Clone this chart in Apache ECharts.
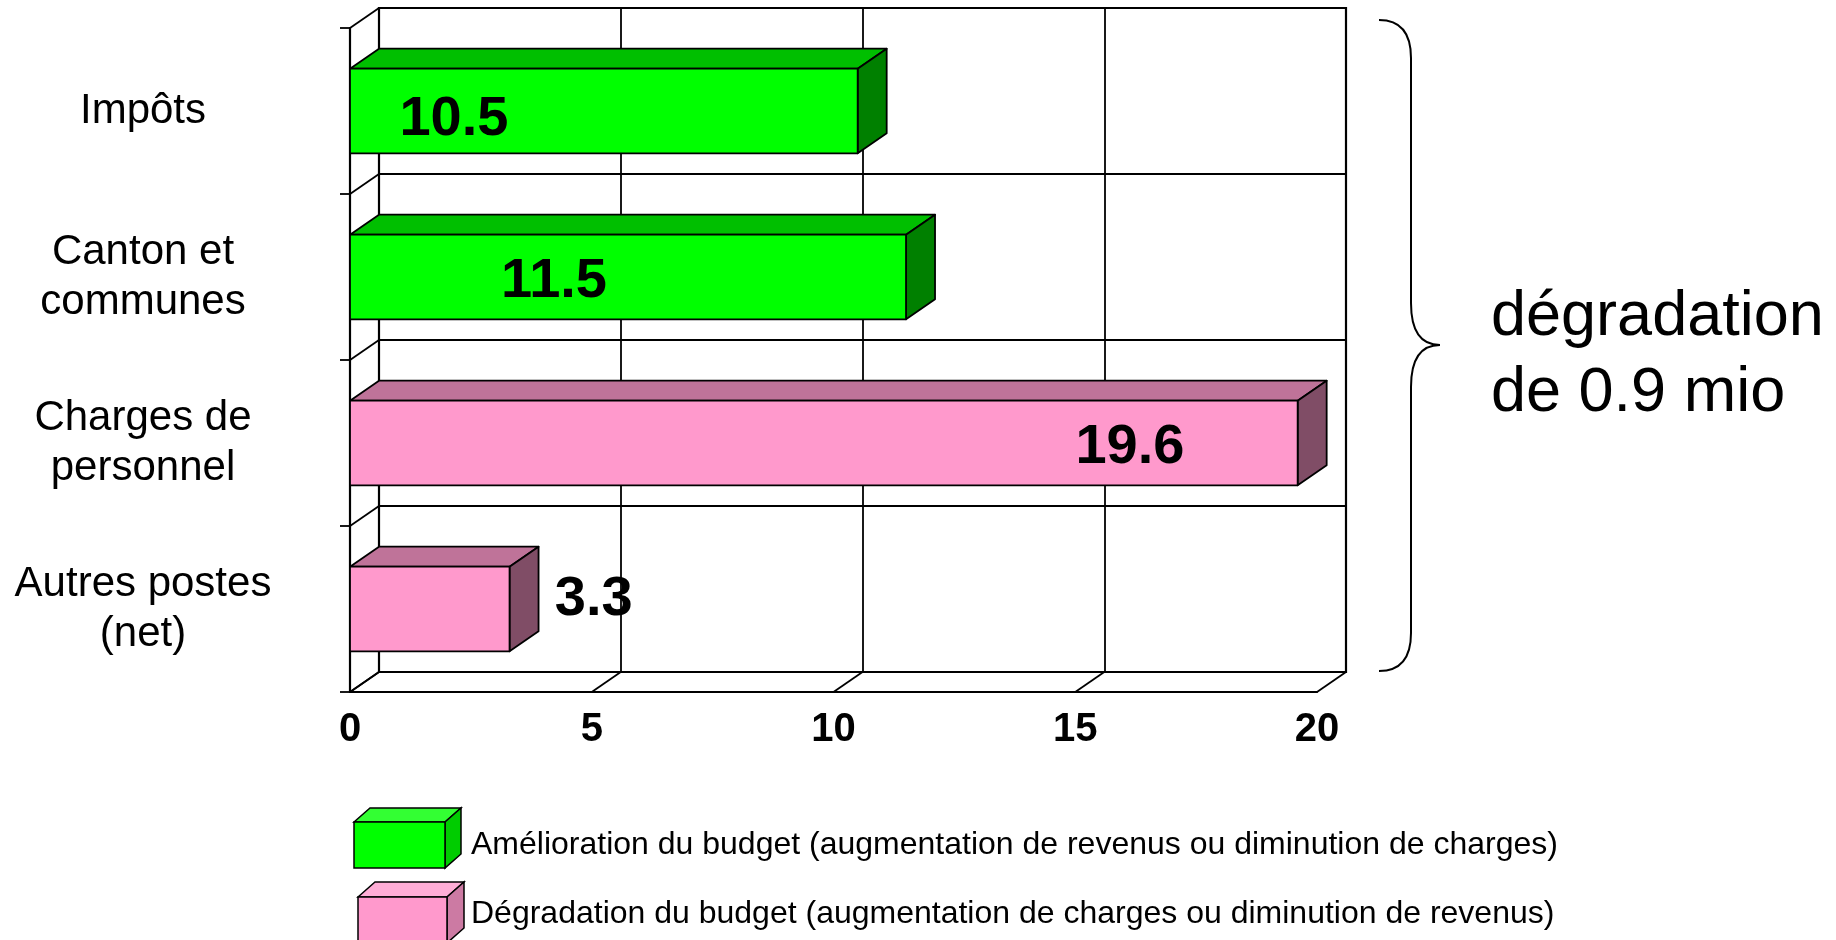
<!DOCTYPE html>
<html>
<head>
<meta charset="utf-8">
<script src="https://cdn.jsdelivr.net/npm/echarts@6/dist/echarts.min.js"></script>
<style>
html,body{margin:0;padding:0;background:#fff;}
#chart{width:1836px;height:940px;}
</style>
</head>
<body>
<div id="chart"></div>
<script>
// ---- data ----
var categories = ['Impôts', 'Canton et\ncommunes', 'Charges de\npersonnel', 'Autres postes\n(net)'];
var improvement = [10.5, 11.5, null, null];
var degradation = [null, null, 19.6, 3.3];
var xTicks = [0, 5, 10, 15, 20];
var seriesNames = [
  'Amélioration du budget (augmentation de revenus ou diminution de charges)',
  'Dégradation du budget (augmentation de charges ou diminution de revenus)'
];
var annotation = 'dégradation\nde 0.9 mio';

// ---- layout (not data) ----
var labelAnchorX = [2.15, 4.22, 16.13, 5.04]; // label centre in axis units
var labelDy = [9, 5, 5, -9];
var DX = 29, DY = -20;
var FONT = '"Liberation Sans", Arial, sans-serif';

var palettes = {
  green: {front: '#00FF00', top: '#00BF00', side: '#008000'},
  pink:  {front: '#FF99CC', top: '#BF7399', side: '#804D66'}
};

function makeRenderBar(pal) {
  return function (params, api) {
    var v = api.value(0);
    var c = api.value(1);
    var p0 = api.coord([0, c]);
    var p1 = api.coord([v, c]);
    var band = api.size([0, 1])[1];
    var h = band * 0.255;
    var x0 = p0[0], x1 = p1[0], yt = p0[1] - h, yb = p0[1] + h;
    var lp = api.coord([labelAnchorX[c], c]);
    function st(fill) { return {fill: fill, stroke: '#000', lineWidth: 1.8, lineJoin: 'round'}; }
    return {
      type: 'group',
      children: [
        {type: 'polygon', shape: {points: [[x0, yt], [x0 + DX, yt + DY], [x1 + DX, yt + DY], [x1, yt]]}, style: st(pal.top)},
        {type: 'polygon', shape: {points: [[x1, yt], [x1 + DX, yt + DY], [x1 + DX, yb + DY], [x1, yb]]}, style: st(pal.side)},
        {type: 'rect', shape: {x: x0, y: yt, width: x1 - x0, height: yb - yt}, style: st(pal.front)},
        {type: 'text', x: lp[0], y: lp[1] + labelDy[c], z2: 10,
         style: {text: String(v), fill: '#000', font: 'bold 56px ' + FONT, align: 'center', verticalAlign: 'middle'}}
      ]
    };
  };
}

function toData(arr) {
  var out = [];
  arr.forEach(function (v, i) { if (v != null) out.push([v, i]); });
  return out;
}

// floor diagonals at x ticks
function renderFloor(params, api) {
  var v = api.value(0);
  var cs = params.coordSys;
  var p = api.coord([v, 0]);
  var yb = cs.y + cs.height;
  return {type: 'line', shape: {x1: p[0], y1: yb, x2: p[0] + DX, y2: yb + DY},
          style: {stroke: '#000', lineWidth: 1.8}};
}
// left wall diagonals at category boundaries
function renderWall(params, api) {
  var c = api.value(1);
  var cs = params.coordSys;
  var band = api.size([0, 1])[1];
  var idx = Math.min(c, categories.length - 1);
  var p = api.coord([0, idx]);
  var y = c < categories.length ? p[1] - band / 2 : p[1] + band / 2;
  return {type: 'line', shape: {x1: cs.x, y1: y, x2: cs.x + DX, y2: y + DY},
          style: {stroke: '#000', lineWidth: 1.8}};
}
var boundaries = [];
for (var b = 0; b <= categories.length; b++) boundaries.push([0, b]);

var chart = echarts.init(document.getElementById('chart'), null, {renderer: 'canvas'});
var option = {
  backgroundColor: '#fff',
  animation: false,
  grid: [
    {left: 350, top: 28, width: 967, height: 664},
    {left: 379, top: 8, width: 967, height: 664, show: true, borderColor: '#000', borderWidth: 2.2, backgroundColor: 'transparent'}
  ],
  xAxis: [
    {type: 'value', gridIndex: 0, min: 0, max: 20, interval: 5,
     axisLine: {show: true, lineStyle: {color: '#000', width: 2.2}},
     axisTick: {show: false}, splitLine: {show: false},
     axisLabel: {color: '#000', fontFamily: FONT, fontSize: 40, fontWeight: 'bold', margin: 18}},
    {type: 'value', gridIndex: 1, min: 0, max: 20, interval: 5,
     axisLine: {show: false}, axisTick: {show: false}, axisLabel: {show: false},
     splitLine: {show: true, lineStyle: {color: '#000', width: 1.8}}}
  ],
  yAxis: [
    {type: 'category', gridIndex: 0, data: categories, inverse: true,
     axisLine: {show: true, lineStyle: {color: '#000', width: 2.2}},
     axisTick: {show: true, length: 10, lineStyle: {color: '#000', width: 1.8}},
     splitLine: {show: false},
     axisLabel: {color: '#000', fontFamily: FONT, fontSize: 42, lineHeight: 50, align: 'center', margin: 207, padding: [5, 0, 0, 0]}},
    {type: 'category', gridIndex: 1, data: categories, inverse: true,
     axisLine: {show: false}, axisTick: {show: false}, axisLabel: {show: false},
     splitLine: {show: true, lineStyle: {color: '#000', width: 1.8}}}
  ],
  series: [
    {type: 'custom', name: 'floor', xAxisIndex: 0, yAxisIndex: 0, renderItem: renderFloor,
     data: xTicks.map(function (t) { return [t, 0]; }), encode: {x: 0, y: 1}, z: 1, silent: true},
    {type: 'custom', name: 'wall', xAxisIndex: 0, yAxisIndex: 0, renderItem: renderWall,
     data: boundaries, encode: {x: 0, y: 1}, z: 1, silent: true},
    {type: 'custom', name: seriesNames[0], xAxisIndex: 0, yAxisIndex: 0,
     renderItem: makeRenderBar(palettes.green), data: toData(improvement), encode: {x: 0, y: 1}, z: 5},
    {type: 'custom', name: seriesNames[1], xAxisIndex: 0, yAxisIndex: 0,
     renderItem: makeRenderBar(palettes.pink), data: toData(degradation), encode: {x: 0, y: 1}, z: 5}
  ],
  graphic: [
    // brace
    {type: 'bezierCurve', shape: {x1: 1379, y1: 20, cpx1: 1411, cpy1: 20, x2: 1411, y2: 58}, style: {fill: null, stroke: '#000', lineWidth: 2}},
    {type: 'line', shape: {x1: 1411, y1: 58, x2: 1411, y2: 303}, style: {stroke: '#000', lineWidth: 2}},
    {type: 'bezierCurve', shape: {x1: 1411, y1: 303, cpx1: 1411, cpy1: 345, x2: 1440, y2: 345}, style: {fill: null, stroke: '#000', lineWidth: 2}},
    {type: 'bezierCurve', shape: {x1: 1440, y1: 345, cpx1: 1411, cpy1: 345, x2: 1411, y2: 387}, style: {fill: null, stroke: '#000', lineWidth: 2}},
    {type: 'line', shape: {x1: 1411, y1: 387, x2: 1411, y2: 633}, style: {stroke: '#000', lineWidth: 2}},
    {type: 'bezierCurve', shape: {x1: 1411, y1: 633, cpx1: 1411, cpy1: 671, x2: 1379, y2: 671}, style: {fill: null, stroke: '#000', lineWidth: 2}},
    {type: 'text', x: 1491, y: 356,
     style: {text: annotation, font: '63px ' + FONT, fill: '#000', lineHeight: 76, align: 'left', verticalAlign: 'middle'}},
    // legend cube 1
    {type: 'polygon', shape: {points: [[354, 822], [370, 808], [461, 808], [445, 822]]}, style: {fill: '#33FF33', stroke: '#000', lineWidth: 1.5}},
    {type: 'polygon', shape: {points: [[445, 822], [461, 808], [461, 854], [445, 868]]}, style: {fill: '#00CC00', stroke: '#000', lineWidth: 1.5}},
    {type: 'rect', shape: {x: 354, y: 822, width: 91, height: 46}, style: {fill: '#00FF00', stroke: '#000', lineWidth: 1.5}},
    {type: 'text', x: 471, y: 845, style: {text: seriesNames[0], font: '32px ' + FONT, fill: '#000', verticalAlign: 'middle'}},
    // legend cube 2
    {type: 'polygon', shape: {points: [[358, 897], [375, 882], [464, 882], [447, 897]]}, style: {fill: '#FFADD6', stroke: '#000', lineWidth: 1.5}},
    {type: 'polygon', shape: {points: [[447, 897], [464, 882], [464, 928], [447, 943]]}, style: {fill: '#CC7AA3', stroke: '#000', lineWidth: 1.5}},
    {type: 'rect', shape: {x: 358, y: 897, width: 89, height: 46}, style: {fill: '#FF99CC', stroke: '#000', lineWidth: 1.5}},
    {type: 'text', x: 471, y: 914, style: {text: seriesNames[1], font: '32px ' + FONT, fill: '#000', verticalAlign: 'middle'}}
  ]
};
chart.setOption(option);
</script>
</body>
</html>
